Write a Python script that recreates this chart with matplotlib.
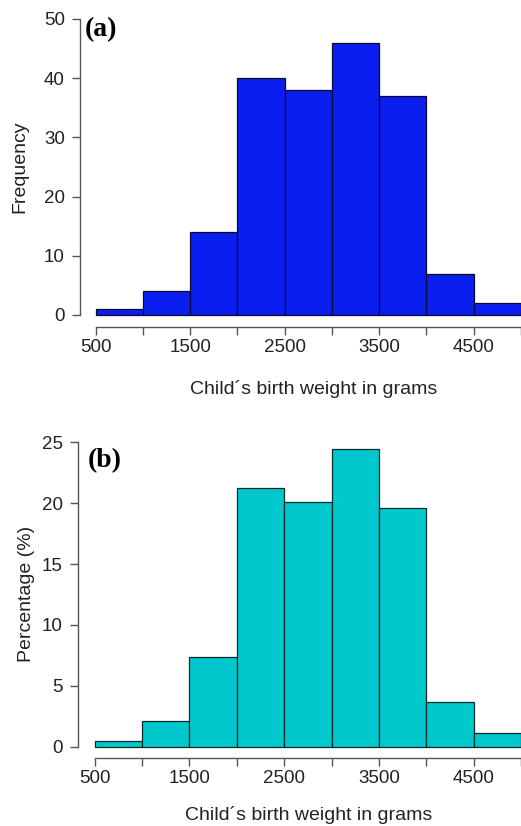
import matplotlib
matplotlib.use("Agg")
import matplotlib.pyplot as plt

# histogram bins (grams) and heights
bin_left = [500, 1000, 1500, 2000, 2500, 3000, 3500, 4000, 4500]
counts = [1, 4, 14, 40, 38, 46, 37, 7, 2]
percent = [0.5, 2.1, 7.4, 21.2, 20.1, 24.4, 19.6, 3.7, 1.1]
xticks = [500, 1000, 1500, 2000, 2500, 3000, 3500, 4000, 4500, 5000]
xticklabels = ["500", "", "1500", "", "2500", "", "3500", "", "4500", ""]

plt.rcParams["font.family"] = ["Liberation Sans", "DejaVu Sans"]

W, H = 521, 826
fig = plt.figure(figsize=(W / 100, H / 100), dpi=100)


def px_axes(left, top, right, bottom):
    return fig.add_axes([left / W, 1 - bottom / H, (right - left) / W, (bottom - top) / H])


def style(ax, ymax, yticks):
    for s in ["top", "right"]:
        ax.spines[s].set_visible(False)
    ax.spines["left"].set_bounds(0, ymax)
    ax.spines["bottom"].set_bounds(500, 5000)
    for s in ["left", "bottom"]:
        ax.spines[s].set_color("#555555")
        ax.spines[s].set_linewidth(1.0)
    ax.set_yticks(yticks)
    ax.set_xticks(xticks)
    ax.set_xticklabels(xticklabels)
    ax.tick_params(axis="both", direction="out", length=6, width=1.0,
                   color="#555555", labelsize=13.5, labelcolor="#222222")
    ax.tick_params(axis="y", pad=5)
    ax.tick_params(axis="x", pad=3)


# (a) frequency
ax1 = px_axes(80, 7, 521, 327)
ax1.bar(bin_left, counts, width=500, align="edge", color="#0A1EF0",
        edgecolor="#0a0a30", linewidth=0.9)
ax1.set_xlim(335, 4881)
ax1.set_ylim(-2.03, 52)
style(ax1, 50, [0, 10, 20, 30, 40, 50])
ax1.set_ylabel("Frequency", fontsize=14, color="#222222")
ax1.yaxis.set_label_coords(-0.116, 0.5)
ax1.set_xlabel("Child\u00b4s birth weight in grams", fontsize=14, color="#222222")
ax1.xaxis.set_label_coords(0.53, -0.165)
ax1.text(0.011, 0.929, "(a)", transform=ax1.transAxes, ha="left", va="center",
         fontsize=20, fontweight="bold", family=["Liberation Serif", "DejaVu Serif"])

# (b) percentage
ax2 = px_axes(78, 430, 521, 757.7)
ax2.bar(bin_left, percent, width=500, align="edge", color="#00C8CC",
        edgecolor="#0a2a2a", linewidth=0.9)
ax2.set_xlim(324, 4903)
ax2.set_ylim(-0.9, 26.0)
style(ax2, 25, [0, 5, 10, 15, 20, 25])
ax2.set_ylabel("Percentage (%)", fontsize=14, color="#222222")
ax2.yaxis.set_label_coords(-0.097, 0.5)
ax2.set_xlabel("Child\u00b4s birth weight in grams", fontsize=14, color="#222222")
ax2.xaxis.set_label_coords(0.52, -0.148)
ax2.text(0.023, 0.908, "(b)", transform=ax2.transAxes, ha="left", va="center",
         fontsize=20, fontweight="bold", family=["Liberation Serif", "DejaVu Serif"])

fig.savefig("out.png", dpi=100)
